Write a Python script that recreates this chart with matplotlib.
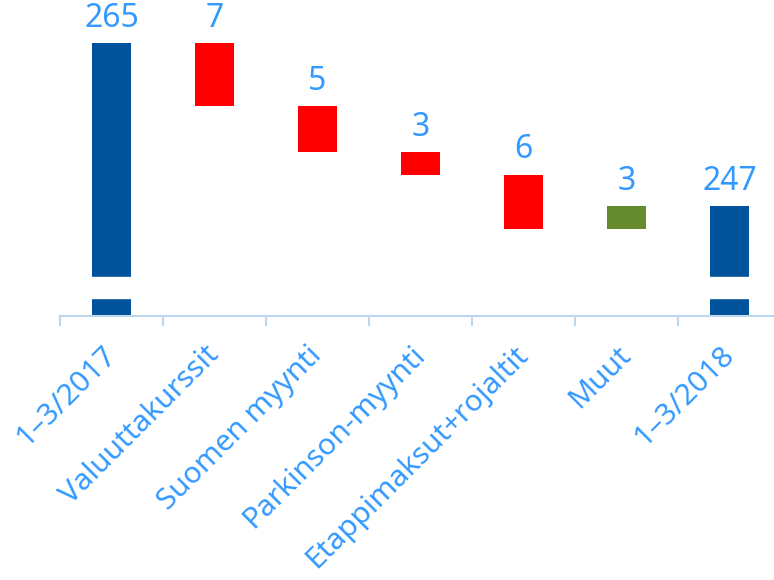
import matplotlib.pyplot as plt

plt.rcParams['font.family'] = ['Noto Sans', 'DejaVu Sans']

# Waterfall data (EUR million)
categories = ['1\u20133/2017', 'Valuuttakurssit', 'Suomen myynti', 'Parkinson-myynti',
              'Etappimaksut+rojaltit', 'Muut', '1\u20133/2018']
start_total = 265
end_total = 247
changes = [-7.0, -5.0, -2.5, -6.0, 2.5]

blue = '#00539B'
red = '#FF0000'
green = '#668A2E'
text_blue = '#3399FF'
axis_col = '#BDD7EE'

fig = plt.figure(figsize=(7.74, 5.8), dpi=100)
ax = fig.add_axes([60 / 774, 1 - 316 / 580, 721 / 774, 273 / 580])

bottoms, heights, colors, labels = [], [], [], []
ymin = 234.9

# first total
bottoms.append(ymin)
heights.append(start_total - ymin)
colors.append(blue)
labels.append(start_total)

level = start_total
for c in changes:
    new = level + c
    bottoms.append(min(level, new))
    heights.append(abs(c))
    colors.append(red if c < 0 else green)
    labels.append(c)
    level = new

bottoms.append(ymin)
heights.append(end_total - ymin)
colors.append(blue)
labels.append(end_total)

x = list(range(len(categories)))
ax.bar(x, heights, bottom=bottoms, width=0.37, color=colors, zorder=2)

# axis break on the total bars
ax.axhspan(236.85, 239.25, color='white', zorder=3)

for xi, b, h, v in zip(x, bottoms, heights, labels):
    ax.annotate(str(int(abs(v) + 0.5)), (xi, b + h), xytext=(0, 6),
                textcoords='offset points', ha='center', va='bottom',
                fontsize=23, color=text_blue, annotation_clip=False)

ax.set_xlim(-0.5, len(categories) - 0.5)
ax.set_ylim(ymin, start_total)

for s in ['top', 'right', 'left']:
    ax.spines[s].set_visible(False)
ax.spines['bottom'].set_color(axis_col)
ax.spines['bottom'].set_linewidth(1.5)
ax.set_yticks([])

ax.set_xticks(x)
ax.set_xticklabels(categories, rotation=45, ha='right', va='center',
                   rotation_mode='anchor', fontsize=21.5, color=text_blue)
ax.tick_params(axis='x', which='major', length=0, pad=25)
ax.set_xticks([i - 0.5 for i in range(len(categories) + 1)], minor=True)
ax.tick_params(axis='x', which='minor', length=7, color=axis_col, width=1.5)

fig.savefig('out.png', dpi=100)
